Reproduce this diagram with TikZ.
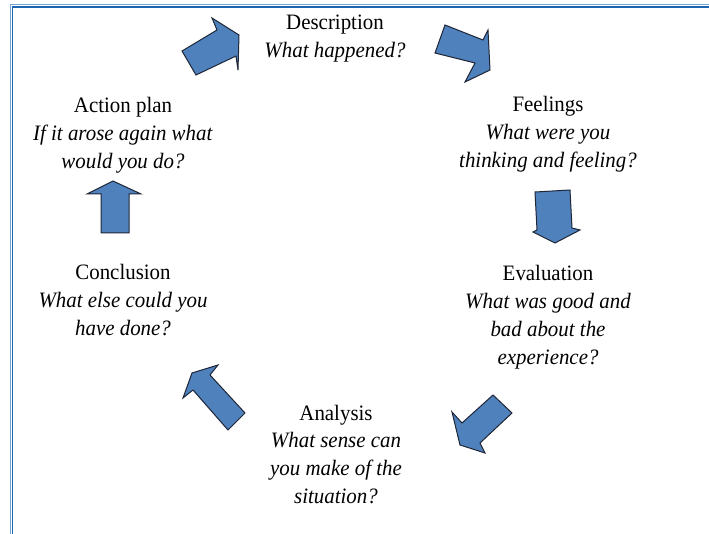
\documentclass[tikz,border=0pt]{standalone}
\usepackage{fontspec}
\setmainfont[FakeStretch=0.95]{Liberation Serif}
\definecolor{arrowfill}{RGB}{79,129,189}
\definecolor{arrowline}{RGB}{30,38,55}
\definecolor{frameblue}{RGB}{30,100,175}
\definecolor{framelight}{RGB}{120,165,215}
\begin{document}
\begin{tikzpicture}[x=1pt,y=-1pt,
  blockarrow/.style={fill=arrowfill,draw=arrowline,line width=1pt,line join=miter},
  stage/.style={align=center,inner sep=0pt,anchor=base,font=\fontsize{22}{27.7}\selectfont},
  framelineA/.style={draw=framelight,line width=1pt},
  framelineB/.style={draw=frameblue,line width=1.8pt}]
\useasboundingbox (0,0) rectangle (709,534);
\fill[white] (0,0) rectangle (709,534);
% frame
\draw[framelineA] (10.6,534) -- (10.6,5.0) -- (709,5.0);
\draw[framelineB] (12.5,534) -- (12.5,7.0) -- (709,7.0);
% texts (anchor = baseline of last line)
\node[stage] (desc) at (335,57.7) {Description\\\textit{What happened?}};
\node[stage] (feel) at (548,167.4) {Feelings\\\textit{What were you}\\\textit{thinking and feeling?}};
\node[stage] (eval) at (548,364.1) {Evaluation\\\textit{What was good and}\\\textit{bad about the}\\\textit{experience?}};
\node[stage] (anal) at (336,503.1) {Analysis\\\textit{What sense can}\\\textit{you make of the}\\\textit{situation?}};
\node[stage] (concl) at (123,335.4) {Conclusion\\\textit{What else could you}\\\textit{have done?}};
\node[stage] (act) at (123,168.4) {Action plan\\\textit{If it arose again what}\\\textit{would you do?}};
% block arrows
\path[blockarrow] (182,51) -- (217,30) -- (212,18) -- (239,35) -- (238,70) -- (236,56) -- (196,75) -- cycle;
\path[blockarrow] (445,25) -- (483,40) -- (488,30) -- (490,70) -- (465,82) -- (475,63) -- (435,53) -- cycle;
\path[blockarrow] (535,192) -- (570,190) -- (572,228) -- (580,230) -- (555,243) -- (533,232) -- (537,230) -- cycle;
\path[blockarrow] (493,395) -- (512,413) -- (480,443) -- (485,453) -- (460,445) -- (452,412) -- (462,423) -- cycle;
\path[blockarrow] (192,373) -- (218,365) -- (210,375) -- (245,413) -- (228,430) -- (193,390) -- (183,398) -- cycle;
\path[blockarrow] (113,181) -- (141,194) -- (129,194) -- (129,233) -- (101,233) -- (101,194) -- (87,194) -- cycle;
\end{tikzpicture}
\end{document}
